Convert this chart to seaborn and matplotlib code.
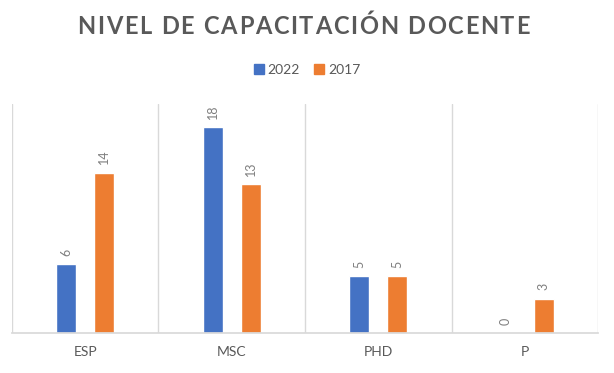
import matplotlib
matplotlib.use("Agg")
import matplotlib.pyplot as plt
import numpy as np
import pandas as pd
import seaborn as sns

categories = ["ESP", "MSC", "PHD", "P"]
years = ["2022", "2017"]
values_2022 = [6, 18, 5, 0]
values_2017 = [14, 13, 5, 3]
colors = ["#4472C4", "#ED7D31"]
title = "NIVEL DE CAPACITACIÓN DOCENTE"

sns.set_theme(style="white")
plt.rcParams["font.family"] = ["Lato", "DejaVu Sans"]


def spaced_text(fig, x, y, s, extra_px, **kw):
    # matplotlib has no letter spacing, so place the characters one by one
    renderer = fig.canvas.get_renderer()
    W = fig.bbox.width
    widths = []
    for ch in s:
        t = fig.text(0, 0, ch.replace(" ", "n"), **kw)
        w = t.get_window_extent(renderer).width
        if ch == " ":
            w *= 0.45
        widths.append(w)
        t.remove()
    total = sum(widths) + extra_px * (len(s) - 1)
    pos = x * W - total / 2
    for ch, w in zip(s, widths):
        if ch != " ":
            fig.text(pos / W, y, ch, ha="left", va="center", **kw)
        pos += w + extra_px


df = pd.DataFrame({
    "nivel": categories * 2,
    "anio": [years[0]] * 4 + [years[1]] * 4,
    "valor": values_2022 + values_2017,
})

fig = plt.figure(figsize=(6.14, 3.73), dpi=100)
ax = fig.add_axes([0.0195, 0.107, 0.9545, 0.614])

sns.barplot(data=df, x="nivel", y="valor", hue="anio", hue_order=years,
            palette=colors, width=0.52, gap=0.47, ax=ax, legend=False,
            saturation=1, errorbar=None)

for cont in ax.containers:
    ax.bar_label(cont, rotation=90, padding=6, fontsize=9, color="#7F7F7F")

ax.set_xlim(-0.5, 3.5)
ax.set_ylim(0, 20)
ax.set_yticks([])
ax.set_xticks(np.arange(-0.5, 4, 1), minor=True)
ax.grid(which="minor", axis="x", color="#D9D9D9", linewidth=1)
ax.tick_params(axis="x", which="both", length=0, labelsize=10,
               labelcolor="#595959", pad=9)
ax.set_xlabel("")
ax.set_ylabel("")
for s in ["top", "left", "right"]:
    ax.spines[s].set_visible(False)
ax.spines["bottom"].set_color("#D9D9D9")

handles = [plt.Rectangle((0, 0), 1, 1, color=c) for c in colors]
fig.legend(handles, years, loc="center", bbox_to_anchor=(0.5, 0.812), ncol=2,
           frameon=False, fontsize=10, handlelength=0.7, handleheight=0.7,
           handletextpad=0.3, columnspacing=1.0, labelcolor="#595959")

spaced_text(fig, 0.494, 0.93, title, 1.7,
            fontsize=17, fontweight="bold", color="#595959")

fig.savefig("out.png", dpi=100)
